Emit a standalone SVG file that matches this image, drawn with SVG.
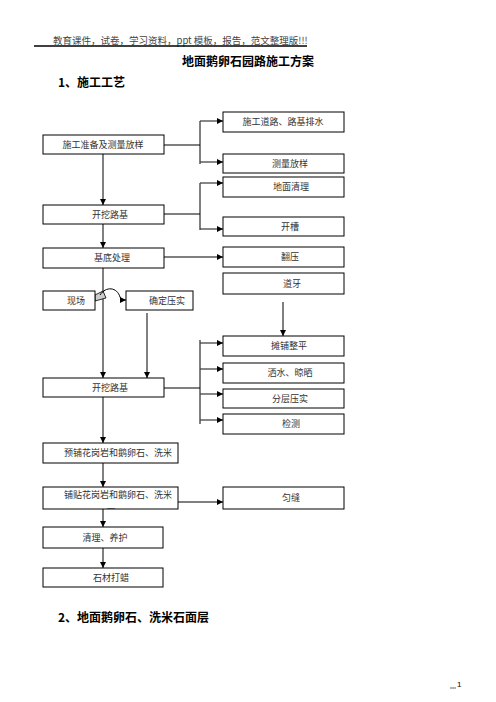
<svg xmlns="http://www.w3.org/2000/svg" width="496" height="702" viewBox="0 0 496 702">
<style>
.bx{fill:#fff;stroke:#000;stroke-width:1}
.t{font-family:"Noto Sans CJK SC","Liberation Serif",serif;font-size:9px;fill:#333;text-anchor:middle}
.h{font-family:"Noto Sans CJK SC","Liberation Sans",sans-serif;font-weight:bold;fill:#000}
.g{stroke:#808080;stroke-width:2;fill:none}
.k{stroke:#000;stroke-width:1;fill:none}
.a{stroke:#444;stroke-width:1.3;fill:none}
</style>
<defs>
<marker id="ah" viewBox="0 0 6 6" refX="6" refY="3" markerWidth="6" markerHeight="6" markerUnits="userSpaceOnUse" orient="auto"><path d="M0,0L6,3L0,6z" fill="#000"/></marker>
<clipPath id="c1"><rect x="43" y="487" width="135" height="22"/></clipPath>
</defs>
<rect width="496" height="702" fill="#fff"/>
<g id="header">
<text x="53" y="44" font-family="Noto Sans CJK SC,Liberation Serif,serif" font-size="9.5" fill="#444">教育课件，试卷，学习资料，ppt 模板，报告，范文整理版!!!</text>
<line x1="34" y1="46" x2="307" y2="46" stroke="#000" stroke-width="1.4"/>
<text x="248" y="66" class="h" font-size="12" text-anchor="middle">地面鹅卵石园路施工方案</text>
<text x="58" y="87" class="h" font-size="12">1、施工工艺</text>
<text x="58" y="622" class="h" font-size="12">2、地面鹅卵石、洗米石面层</text>
<text x="457" y="687" font-family="Liberation Sans,sans-serif" font-size="8" fill="#000">1</text>
<line x1="450" y1="688" x2="456" y2="688" stroke="#000" stroke-width="0.6"/>
</g>
<g id="connectors">
<line class="g" x1="103" y1="154" x2="103" y2="205" marker-end="url(#ah)"/>
<line class="g" x1="103" y1="224" x2="103" y2="248" marker-end="url(#ah)"/>
<line class="g" x1="103" y1="268" x2="103" y2="378" marker-end="url(#ah)"/>
<line class="g" x1="147" y1="313" x2="147" y2="378" marker-end="url(#ah)"/>
<line class="g" x1="283" y1="302" x2="283" y2="336" marker-end="url(#ah)"/>
<line class="g" x1="103" y1="397" x2="103" y2="443" marker-end="url(#ah)"/>
<line class="g" x1="103" y1="463" x2="103" y2="487" marker-end="url(#ah)"/>
<line class="g" x1="103" y1="509" x2="103" y2="527" marker-end="url(#ah)"/>
<line class="g" x1="103" y1="548" x2="103" y2="568" marker-end="url(#ah)"/>
<polyline class="k" points="164,145 200,145"/>
<line class="k" x1="200" y1="121" x2="200" y2="164"/>
<line class="a" x1="200" y1="121" x2="223" y2="121" marker-end="url(#ah)"/>
<line class="a" x1="200" y1="162" x2="223" y2="162" marker-end="url(#ah)"/>
<polyline class="k" points="164,214 200,214"/>
<line class="k" x1="200" y1="183" x2="200" y2="230"/>
<line class="a" x1="200" y1="183" x2="223" y2="183" stroke="#777" stroke-width="1.8" marker-end="url(#ah)"/>
<line class="a" x1="200" y1="229" x2="223" y2="229" marker-end="url(#ah)"/>
<line class="k" x1="164" y1="257" x2="223" y2="257" marker-end="url(#ah)"/>
<polyline class="k" points="164,388 200,388"/>
<line class="k" x1="200" y1="340" x2="200" y2="424"/>
<line class="a" x1="200" y1="343" x2="223" y2="343" marker-end="url(#ah)"/>
<line class="a" x1="200" y1="369" x2="223" y2="369" marker-end="url(#ah)"/>
<line class="a" x1="200" y1="394" x2="223" y2="394" marker-end="url(#ah)"/>
<line class="a" x1="200" y1="420" x2="223" y2="420" marker-end="url(#ah)"/>
<line class="k" x1="178" y1="502" x2="223" y2="502" marker-end="url(#ah)"/>
<path d="M95,295 L103,291 L106,298 L95,301 Z" fill="#ccc" stroke="#000" stroke-width="0.8"/>
<path d="M100,295 C106,286 117,287 120,297 C121,299 123,300 126,300" class="k" stroke-width="1.4" marker-end="url(#ah)"/>
</g>
<g id="n1"><rect class="bx" x="43" y="135" width="121" height="19"/><text class="t" x="103" y="148">施工准备及测量放样</text></g>
<g id="n2"><rect class="bx" x="223" y="112" width="121" height="20"/><text class="t" x="283" y="125">施工道路、路基排水</text></g>
<g id="n3"><rect class="bx" x="223" y="154" width="121" height="19"/><text class="t" x="290" y="167">测量放样</text></g>
<g id="n4"><rect class="bx" x="223" y="177" width="121" height="20"/><text class="t" x="291" y="190">地面清理</text></g>
<g id="n5"><rect class="bx" x="43" y="205" width="121" height="19"/><text class="t" x="110" y="218">开挖路基</text></g>
<g id="n6"><rect class="bx" x="223" y="217" width="121" height="19"/><text class="t" x="290" y="230">开槽</text></g>
<g id="n7"><rect class="bx" x="43" y="248" width="121" height="20"/><text class="t" x="112" y="261">基底处理</text></g>
<g id="n8"><rect class="bx" x="223" y="247" width="121" height="20"/><text class="t" x="290" y="260">翻压</text></g>
<g id="n9"><rect class="bx" x="223" y="273" width="121" height="21"/><text class="t" x="292" y="287">道牙</text></g>
<g id="n10"><rect class="bx" x="43" y="291" width="52" height="19"/><text class="t" x="76" y="304">现场</text></g>
<g id="n11"><rect class="bx" x="126" y="291" width="67" height="19"/><text class="t" x="167" y="304">确定压实</text></g>
<g id="n12"><rect class="bx" x="223" y="336" width="121" height="20"/><text class="t" x="289" y="349">摊铺整平</text></g>
<g id="n13"><rect class="bx" x="223" y="363" width="121" height="20"/><text class="t" x="290" y="376">洒水、晾晒</text></g>
<g id="n14"><rect class="bx" x="223" y="389" width="121" height="19"/><text class="t" x="290" y="402">分层压实</text></g>
<g id="n15"><rect class="bx" x="223" y="414" width="121" height="20"/><text class="t" x="291" y="427">检测</text></g>
<g id="n16"><rect class="bx" x="43" y="378" width="121" height="19"/><text class="t" x="110" y="391">开挖路基</text></g>
<g id="n17"><rect class="bx" x="43" y="443" width="135" height="20"/><text class="t" x="118" y="456" font-size="8.6">预铺花岗岩和鹅卵石、洗米</text></g>
<g id="n18"><rect class="bx" x="43" y="487" width="135" height="22"/><text class="t" x="118" y="498" font-size="8.6">铺贴花岗岩和鹅卵石、洗米</text><text class="t" x="111" y="515" font-size="8.6" clip-path="url(#c1)">石</text></g>
<g id="n19"><rect class="bx" x="223" y="487" width="121" height="22"/><text class="t" x="291" y="501">匀缝</text></g>
<g id="n20"><rect class="bx" x="43" y="527" width="120" height="21"/><text class="t" x="105" y="541">清理、养护</text></g>
<g id="n21"><rect class="bx" x="43" y="568" width="120" height="19"/><text class="t" x="111" y="581">石材打蜡</text></g>
</svg>
